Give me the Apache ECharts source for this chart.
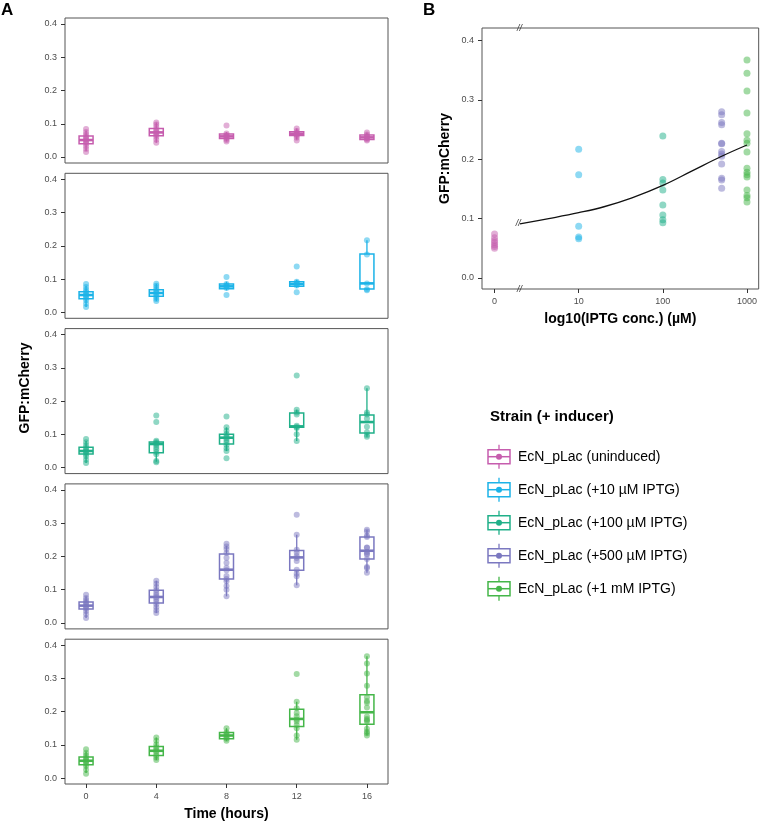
<!DOCTYPE html>
<html>
<head>
<meta charset="utf-8">
<title>GFP:mCherry</title>
<script src="https://cdn.jsdelivr.net/npm/echarts@6/dist/echarts.min.js"></script>
<style>
  html, body { margin: 0; padding: 0; background: #fff; }
  #main { width: 760px; height: 822px; }
</style>
</head>
<body>
<div id="main"></div>
<script>
// 时间点 (hours)
const times = [0, 4, 8, 12, 16]
const strains = [
  'EcN_pLac (uninduced)',
  'EcN_pLac (+10 µM IPTG)',
  'EcN_pLac (+100 µM IPTG)',
  'EcN_pLac (+500 µM IPTG)',
  'EcN_pLac (+1 mM IPTG)'
]
const iptgConc = [0, 10, 100, 500, 1000]
const concTickLabels = ['0', '10', '100', '1000']
const yTicks = [0, 0.1, 0.2, 0.3, 0.4]

// individual measurements per time point
const uninducedPts = [
  [0.084, 0.075, 0.068, 0.062, 0.057, 0.053, 0.049, 0.045, 0.040, 0.032, 0.024, 0.015],
  [0.104, 0.098, 0.090, 0.083, 0.078, 0.074, 0.070, 0.066, 0.060, 0.052, 0.043],
  [0.095, 0.071, 0.066, 0.063, 0.060, 0.056, 0.051, 0.047],
  [0.086, 0.078, 0.073, 0.070, 0.067, 0.064, 0.058, 0.050],
  [0.074, 0.068, 0.063, 0.060, 0.056, 0.053, 0.050]
]
const iptg10Pts = [
  [0.085, 0.076, 0.068, 0.062, 0.056, 0.052, 0.048, 0.043, 0.036, 0.026, 0.016],
  [0.086, 0.080, 0.073, 0.067, 0.062, 0.057, 0.052, 0.046, 0.040, 0.034],
  [0.106, 0.085, 0.081, 0.078, 0.073, 0.052],
  [0.138, 0.092, 0.088, 0.085, 0.081, 0.060],
  [0.217, 0.174, 0.087, 0.069, 0.066]
]
const iptg100Pts = [
  [0.086, 0.076, 0.067, 0.060, 0.054, 0.050, 0.046, 0.041, 0.034, 0.024, 0.014],
  [0.157, 0.137, 0.081, 0.077, 0.073, 0.069, 0.062, 0.055, 0.047, 0.040, 0.020, 0.016],
  [0.154, 0.121, 0.111, 0.101, 0.094, 0.089, 0.083, 0.076, 0.068, 0.058, 0.050, 0.028],
  [0.277, 0.174, 0.166, 0.160, 0.126, 0.122, 0.119, 0.100, 0.080],
  [0.239, 0.166, 0.160, 0.148, 0.123, 0.106, 0.098, 0.093]
]
const iptg500Pts = [
  [0.085, 0.075, 0.068, 0.062, 0.057, 0.052, 0.048, 0.043, 0.036, 0.026, 0.015],
  [0.127, 0.118, 0.108, 0.098, 0.090, 0.083, 0.077, 0.071, 0.064, 0.056, 0.047, 0.038, 0.030],
  [0.238, 0.230, 0.222, 0.210, 0.196, 0.181, 0.166, 0.158, 0.141, 0.132, 0.125, 0.111, 0.100, 0.080],
  [0.325, 0.265, 0.220, 0.212, 0.201, 0.195, 0.186, 0.160, 0.148, 0.140, 0.113],
  [0.280, 0.275, 0.262, 0.258, 0.227, 0.226, 0.213, 0.209, 0.205, 0.192, 0.168, 0.165, 0.151]
]
const iptg1000Pts = [
  [0.087, 0.076, 0.068, 0.061, 0.056, 0.052, 0.048, 0.043, 0.036, 0.025, 0.013],
  [0.122, 0.112, 0.101, 0.093, 0.087, 0.081, 0.075, 0.068, 0.061, 0.054],
  [0.150, 0.138, 0.133, 0.128, 0.123, 0.118, 0.112],
  [0.313, 0.230, 0.210, 0.196, 0.186, 0.176, 0.170, 0.160, 0.150, 0.128, 0.115],
  [0.367, 0.345, 0.315, 0.278, 0.243, 0.232, 0.227, 0.212, 0.185, 0.178, 0.174, 0.170, 0.148, 0.139, 0.135, 0.128]
]

// box stats: [lower whisker, Q1, median, Q3, upper whisker]
const uninducedBox = [
  [0.018, 0.040, 0.051, 0.063, 0.080],
  [0.043, 0.064, 0.074, 0.086, 0.104],
  [0.047, 0.056, 0.062, 0.069, 0.075],
  [0.052, 0.065, 0.070, 0.076, 0.086],
  [0.049, 0.053, 0.059, 0.066, 0.074]
]
const iptg10Box = [
  [0.016, 0.041, 0.052, 0.062, 0.080],
  [0.034, 0.048, 0.058, 0.068, 0.086],
  [0.066, 0.071, 0.078, 0.085, 0.092],
  [0.074, 0.078, 0.085, 0.092, 0.098],
  [0.066, 0.070, 0.087, 0.175, 0.217]
]
const iptg100Box = [
  [0.014, 0.041, 0.050, 0.061, 0.080],
  [0.018, 0.045, 0.071, 0.077, 0.081],
  [0.050, 0.071, 0.090, 0.100, 0.121],
  [0.080, 0.121, 0.124, 0.164, 0.174],
  [0.093, 0.104, 0.137, 0.158, 0.239]
]
const iptg500Box = [
  [0.015, 0.042, 0.052, 0.063, 0.080],
  [0.030, 0.060, 0.078, 0.098, 0.127],
  [0.080, 0.132, 0.160, 0.207, 0.232],
  [0.113, 0.158, 0.197, 0.218, 0.265],
  [0.151, 0.192, 0.217, 0.258, 0.280]
]
const iptg1000Box = [
  [0.015, 0.040, 0.052, 0.063, 0.080],
  [0.054, 0.068, 0.082, 0.095, 0.122],
  [0.112, 0.118, 0.128, 0.137, 0.150],
  [0.115, 0.155, 0.178, 0.207, 0.230],
  [0.128, 0.162, 0.198, 0.251, 0.367]
]

// fitted dose-response curve (panel B)
const fitConc = [2, 4.4, 10, 20, 43, 100, 220, 500, 1000]
const fitVal = [0.091, 0.100, 0.110, 0.120, 0.135, 0.156, 0.180, 0.205, 0.224]

const strainPts = [uninducedPts, iptg10Pts, iptg100Pts, iptg500Pts, iptg1000Pts]
const strainBox = [uninducedBox, iptg10Box, iptg100Box, iptg500Box, iptg1000Box]
const colors = ['#C65DAE', '#1CB3E8', '#20B089', '#7B78C0', '#45B649']

const FONT = '"Liberation Sans", Arial, Helvetica, sans-serif'
const tickLabel = { fontSize: 9, color: '#4d4d4d', fontFamily: FONT }
const axisTitle = { fontSize: 14, fontWeight: 'bold', color: '#000', fontFamily: FONT }
const hiddenLine = { show: false, onZero: false }
const tickStyle = { length: 4, lineStyle: { color: '#333' } }

function renderBox (params, api) {
  const x = api.value(0)
  const lo = api.coord([x, api.value(1)])
  const q1 = api.coord([x, api.value(2)])
  const med = api.coord([x, api.value(3)])
  const q3 = api.coord([x, api.value(4)])
  const hi = api.coord([x, api.value(5)])
  const half = 7
  const color = api.visual('color')
  const stroke = { stroke: color, lineWidth: 1.3, fill: null }
  return {
    type: 'group',
    children: [
      { type: 'line', shape: { x1: lo[0], y1: lo[1], x2: q1[0], y2: q1[1] }, style: stroke },
      { type: 'line', shape: { x1: q3[0], y1: q3[1], x2: hi[0], y2: hi[1] }, style: stroke },
      {
        type: 'rect',
        shape: { x: q3[0] - half, y: q3[1], width: half * 2, height: q1[1] - q3[1] },
        style: { stroke: color, lineWidth: 1.5, fill: 'none' }
      },
      {
        type: 'line',
        shape: { x1: med[0] - half, y1: med[1], x2: med[0] + half, y2: med[1] },
        style: { stroke: color, lineWidth: 2.6 }
      }
    ]
  }
}

const grids = []
const xAxes = []
const yAxes = []
const series = []

// 面板 A: 5 个时间序列
strainPts.forEach((pts, i) => {
  const last = i === strainPts.length - 1
  grids.push({
    left: 65, top: 18 + i * 155.3, width: 323, height: 145,
    show: true, borderColor: '#555', borderWidth: 1, backgroundColor: 'transparent'
  })
  xAxes.push({
    gridIndex: i,
    type: 'value',
    min: -1.2,
    max: 17.2,
    axisLine: hiddenLine,
    splitLine: { show: false },
    axisTick: Object.assign({ show: last, customValues: times }, tickStyle),
    axisLabel: Object.assign({ show: last, margin: 8, customValues: times }, tickLabel),
    name: last ? 'Time (hours)' : '',
    nameLocation: 'middle',
    nameGap: 23,
    nameTextStyle: axisTitle
  })
  yAxes.push({
    gridIndex: i,
    type: 'value',
    min: -0.018,
    max: 0.418,
    axisLine: hiddenLine,
    splitLine: { show: false },
    axisTick: Object.assign({ show: true, customValues: yTicks }, tickStyle),
    axisLabel: Object.assign({ margin: 8, customValues: yTicks, formatter: v => v.toFixed(1) }, tickLabel)
  })
  const scatterData = []
  times.forEach((t, k) => {
    pts[k].forEach(v => scatterData.push([t, v]))
  })
  series.push({
    type: 'scatter',
    xAxisIndex: i,
    yAxisIndex: i,
    symbolSize: 6,
    silent: true,
    itemStyle: { color: colors[i], opacity: 0.5 },
    data: scatterData,
    z: 2
  })
  series.push({
    type: 'custom',
    xAxisIndex: i,
    yAxisIndex: i,
    silent: true,
    renderItem: renderBox,
    itemStyle: { color: colors[i] },
    encode: { x: 0, y: [1, 2, 3, 4, 5] },
    data: times.map((t, k) => [t].concat(strainBox[i][k])),
    z: 3
  })
})

// 面板 B: 16 h 的剂量响应
const concPos = c => (c > 0 ? Math.log10(c) : 0)
grids.push({
  left: 482, top: 28, width: 277, height: 261,
  show: true, borderColor: '#555', borderWidth: 1, backgroundColor: 'transparent'
})
xAxes.push({
  gridIndex: 5,
  type: 'value',
  min: -0.149,
  max: 3.139,
  axisLine: hiddenLine,
  splitLine: { show: false },
  axisTick: Object.assign({ customValues: [0, 1, 2, 3] }, tickStyle),
  axisLabel: Object.assign({
    margin: 8,
    customValues: [0, 1, 2, 3],
    formatter: v => concTickLabels[Math.round(v)]
  }, tickLabel),
  name: 'log10(IPTG conc.) (µM)',
  nameLocation: 'middle',
  nameGap: 23,
  nameTextStyle: axisTitle
})
yAxes.push({
  gridIndex: 5,
  type: 'value',
  min: -0.0185,
  max: 0.421,
  axisLine: hiddenLine,
  splitLine: { show: false },
  axisTick: Object.assign({ customValues: yTicks }, tickStyle),
  axisLabel: Object.assign({ margin: 8, customValues: yTicks, formatter: v => v.toFixed(1) }, tickLabel),
  name: 'GFP:mCherry',
  nameLocation: 'middle',
  nameGap: 30,
  nameTextStyle: axisTitle
})
strainPts.forEach((pts, i) => {
  series.push({
    type: 'scatter',
    xAxisIndex: 5,
    yAxisIndex: 5,
    symbolSize: 7,
    silent: true,
    itemStyle: { color: colors[i], opacity: 0.5 },
    data: pts[pts.length - 1].map(v => [concPos(iptgConc[i]), v])
  })
})
series.push({
  type: 'line',
  xAxisIndex: 5,
  yAxisIndex: 5,
  smooth: 0.4,
  showSymbol: false,
  silent: true,
  lineStyle: { color: '#111', width: 1.3 },
  data: fitConc.map((c, k) => [concPos(c), fitVal[k]]),
  z: 4
})

// 图例和标签
const graphic = [
  { type: 'text', left: 1, top: 2, style: { text: 'A', font: 'bold 17px ' + FONT, fill: '#000' } },
  { type: 'text', left: 423, top: 2, style: { text: 'B', font: 'bold 17px ' + FONT, fill: '#000' } },
  {
    type: 'text', x: 25, y: 388, rotation: Math.PI / 2,
    style: { text: 'GFP:mCherry', font: 'bold 14px ' + FONT, fill: '#000', align: 'center', verticalAlign: 'middle' }
  },
  {
    type: 'text', x: 490, y: 417,
    style: { text: 'Strain (+ inducer)', font: 'bold 15px ' + FONT, fill: '#000', verticalAlign: 'middle' }
  }
]
strains.forEach((name, i) => {
  const cy = 456.7 + i * 33
  const c = colors[i]
  graphic.push({
    type: 'group',
    children: [
      { type: 'line', shape: { x1: 499, y1: cy - 12, x2: 499, y2: cy + 12 }, style: { stroke: c, lineWidth: 1.3 } },
      { type: 'rect', shape: { x: 488, y: cy - 7, width: 22, height: 14 }, style: { stroke: c, lineWidth: 1.5, fill: '#fff' } },
      { type: 'line', shape: { x1: 488, y1: cy, x2: 510, y2: cy }, style: { stroke: c, lineWidth: 1.5 } },
      { type: 'circle', shape: { cx: 499, cy: cy, r: 3 }, style: { fill: c } },
      {
        type: 'text', x: 518, y: cy,
        style: { text: name, font: '14px ' + FONT, fill: '#000', verticalAlign: 'middle' }
      }
    ]
  })
})

const chart = echarts.init(document.getElementById('main'))
chart.setOption({
  animation: false,
  grid: grids,
  xAxis: xAxes,
  yAxis: yAxes,
  series: series,
  graphic: graphic
})

// axis break marks "//"
const breakX = 0.297
const breakSpots = [[breakX, 0.421], [breakX, -0.0185], [concPos(fitConc[0]) - 0.02, fitVal[0]]]
breakSpots.forEach(p => {
  const px = chart.convertToPixel({ gridIndex: 5 }, p)
  graphic.push({
    type: 'text', x: px[0], y: px[1], z: 10,
    style: { text: '//', font: 'italic 9px ' + FONT, fill: '#333', align: 'center', verticalAlign: 'middle' }
  })
})
chart.setOption({ graphic: graphic })
</script>
</body>
</html>
